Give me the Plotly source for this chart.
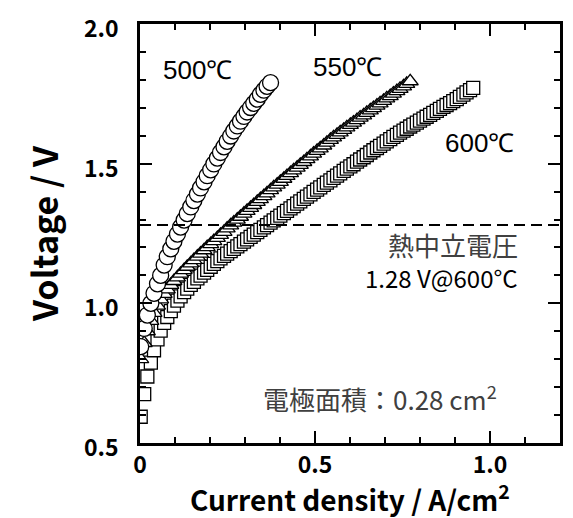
import plotly.graph_objects as go

# Current density sweep (A/cm2), shared by all three temperatures
current = [0.002, 0.012, 0.021, 0.031, 0.040, 0.050, 0.059, 0.069, 0.078, 0.088,
           0.097, 0.107, 0.116, 0.126, 0.135, 0.145, 0.154, 0.164, 0.173, 0.183,
           0.192, 0.202, 0.211, 0.221, 0.230, 0.240, 0.249, 0.259, 0.268, 0.278,
           0.287, 0.297, 0.306, 0.316, 0.325, 0.335, 0.344, 0.354, 0.363, 0.373,
           0.382, 0.392, 0.401, 0.411, 0.420, 0.430, 0.439, 0.449, 0.458, 0.468,
           0.477, 0.487, 0.496, 0.506, 0.515, 0.525, 0.534, 0.544, 0.553, 0.563,
           0.572, 0.582, 0.591, 0.601, 0.610, 0.620, 0.629, 0.639, 0.648, 0.658,
           0.667, 0.677, 0.686, 0.696, 0.705, 0.715, 0.724, 0.734, 0.743, 0.753,
           0.762, 0.772, 0.781, 0.791, 0.800, 0.810, 0.819, 0.829, 0.838, 0.848,
           0.857, 0.867, 0.876, 0.886, 0.895, 0.905, 0.914, 0.924, 0.933, 0.943,
           0.952]

v500 = [0.845, 0.910, 0.958, 1.000, 1.036, 1.070, 1.100, 1.137, 1.167, 1.195,
        1.222, 1.248, 1.273, 1.298, 1.321, 1.345, 1.368, 1.391, 1.413, 1.435,
        1.457, 1.478, 1.499, 1.520, 1.540, 1.560, 1.580, 1.599, 1.617, 1.635,
        1.652, 1.669, 1.685, 1.701, 1.716, 1.731, 1.748, 1.763, 1.777, 1.790]

v550 = [0.800, 0.858, 0.900, 0.937, 0.966, 0.992, 1.014, 1.034, 1.050, 1.066,
        1.080, 1.093, 1.106, 1.119, 1.131, 1.143, 1.155, 1.167, 1.178, 1.190,
        1.201, 1.212, 1.223, 1.234, 1.245, 1.256, 1.268, 1.279, 1.289, 1.300,
        1.310, 1.321, 1.331, 1.342, 1.352, 1.363, 1.373, 1.384, 1.394, 1.405,
        1.415, 1.425, 1.435, 1.446, 1.456, 1.466, 1.476, 1.486, 1.496, 1.506,
        1.516, 1.526, 1.536, 1.546, 1.555, 1.565, 1.575, 1.585, 1.594, 1.603,
        1.612, 1.621, 1.630, 1.639, 1.647, 1.656, 1.665, 1.673, 1.682, 1.691,
        1.699, 1.708, 1.716, 1.725, 1.734, 1.742, 1.751, 1.760, 1.768, 1.777,
        1.786, 1.795]

v600 = [0.594, 0.675, 0.738, 0.788, 0.832, 0.871, 0.902, 0.930, 0.951, 0.972,
        0.992, 1.010, 1.025, 1.040, 1.053, 1.066, 1.077, 1.089, 1.099, 1.110,
        1.120, 1.131, 1.141, 1.151, 1.161, 1.170, 1.178, 1.187, 1.195, 1.204,
        1.212, 1.221, 1.229, 1.238, 1.246, 1.255, 1.263, 1.272, 1.280, 1.289,
        1.297, 1.306, 1.314, 1.323, 1.331, 1.340, 1.348, 1.357, 1.365, 1.374,
        1.382, 1.390, 1.399, 1.407, 1.415, 1.424, 1.432, 1.440, 1.449, 1.457,
        1.465, 1.474, 1.482, 1.490, 1.498, 1.507, 1.515, 1.523, 1.531, 1.540,
        1.548, 1.556, 1.564, 1.572, 1.580, 1.588, 1.596, 1.603, 1.611, 1.618,
        1.625, 1.633, 1.640, 1.647, 1.654, 1.661, 1.668, 1.675, 1.682, 1.689,
        1.696, 1.703, 1.710, 1.717, 1.724, 1.731, 1.739, 1.747, 1.755, 1.763,
        1.771]

thermoneutral_v = 1.28
x_tickvals = [0, 0.5, 1.0]
x_ticktext = ["0", "0.5", "1.0"]
x_minor = [0.1, 0.2, 0.3, 0.4, 0.6, 0.7, 0.8, 0.9, 1.1]
y_tickvals = [0.5, 1.0, 1.5, 2.0]
y_ticktext = ["0.5", "1.0", "1.5", "2.0"]
y_minor = [0.6, 0.7, 0.8, 0.9, 1.1, 1.2, 1.3, 1.4, 1.6, 1.7, 1.8, 1.9]

fig = go.Figure()

fig.add_trace(go.Scatter(
    x=current[:len(v600)], y=v600, mode="markers", name="600℃",
    marker=dict(symbol="square", size=13, color="white",
                line=dict(color="black", width=1.3))))
fig.add_trace(go.Scatter(
    x=current[:len(v550)], y=v550, mode="markers", name="550℃",
    marker=dict(symbol="triangle-up", size=14, color="white",
                line=dict(color="black", width=1.3))))
fig.add_trace(go.Scatter(
    x=current[:len(v500)], y=v500, mode="markers", name="500℃",
    marker=dict(symbol="circle", size=16, color="white",
                line=dict(color="black", width=1.3))))

fig.add_shape(type="line", xref="paper", yref="y", x0=0, x1=1,
              y0=thermoneutral_v, y1=thermoneutral_v,
              line=dict(color="black", width=2, dash="11px,6px"))

lab_font = dict(family="Liberation Sans, Arial, sans-serif", size=26, color="black")
fig.add_annotation(x=0.163, y=1.835, text="500℃", showarrow=False, font=lab_font)
fig.add_annotation(x=0.594, y=1.846, text="550℃", showarrow=False, font=lab_font)
fig.add_annotation(x=0.971, y=1.574, text="600℃", showarrow=False, font=lab_font)

jp = "Noto Sans CJK JP"
fig.add_annotation(x=1.086, y=1.212, text="熱中立電圧", showarrow=False,
                   xanchor="right", font=dict(family=jp, size=26, color="#404040"))
fig.add_annotation(x=1.086, y=1.091, text="1.28 V@600°C", showarrow=False,
                   xanchor="right", font=dict(family=jp, size=24, color="black"))
fig.add_annotation(x=0.686, y=0.664, text="電極面積：0.28 cm<sup>2</sup>", showarrow=False,
                   font=dict(family=jp, size=26, color="#404040"))

# x-axis title placed just below the tick labels
fig.add_annotation(xref="paper", yref="paper", x=0.5, y=0, yanchor="middle",
                   yshift=-54, showarrow=False,
                   text="Current density / A/cm<sup>2</sup>",
                   font=dict(family=jp, size=28, color="black", weight="bold"))

axis_common = dict(showline=True, linecolor="black", linewidth=2.5, mirror="allticks",
                   ticks="inside", ticklen=12, tickwidth=2, tickcolor="black",
                   showgrid=False, zeroline=False, automargin=False,
                   tickfont=dict(family=jp, size=23, color="black", weight="bold"))

fig.update_xaxes(range=[0, 1.2], tickvals=x_tickvals, ticktext=x_ticktext,
                 minor=dict(ticks="inside", ticklen=6, tickwidth=2,
                            tickvals=x_minor, tickcolor="black"),
                 ticklabelstandoff=0,
                 **axis_common)
fig.update_yaxes(range=[0.5, 2.0], tickvals=y_tickvals, ticktext=y_ticktext,
                 minor=dict(ticks="inside", ticklen=6, tickwidth=2,
                            tickvals=y_minor, tickcolor="black"),
                 ticklabelshift=5, ticklabelstandoff=14,
                 title=dict(text="Voltage / V", standoff=16,
                            font=dict(family=jp, size=34, color="black", weight="bold")),
                 **axis_common)

fig.update_layout(width=573, height=518, showlegend=False,
                  margin=dict(l=140, r=13, t=24, b=75),
                  plot_bgcolor="white", paper_bgcolor="white")

fig.write_html("out.html")
